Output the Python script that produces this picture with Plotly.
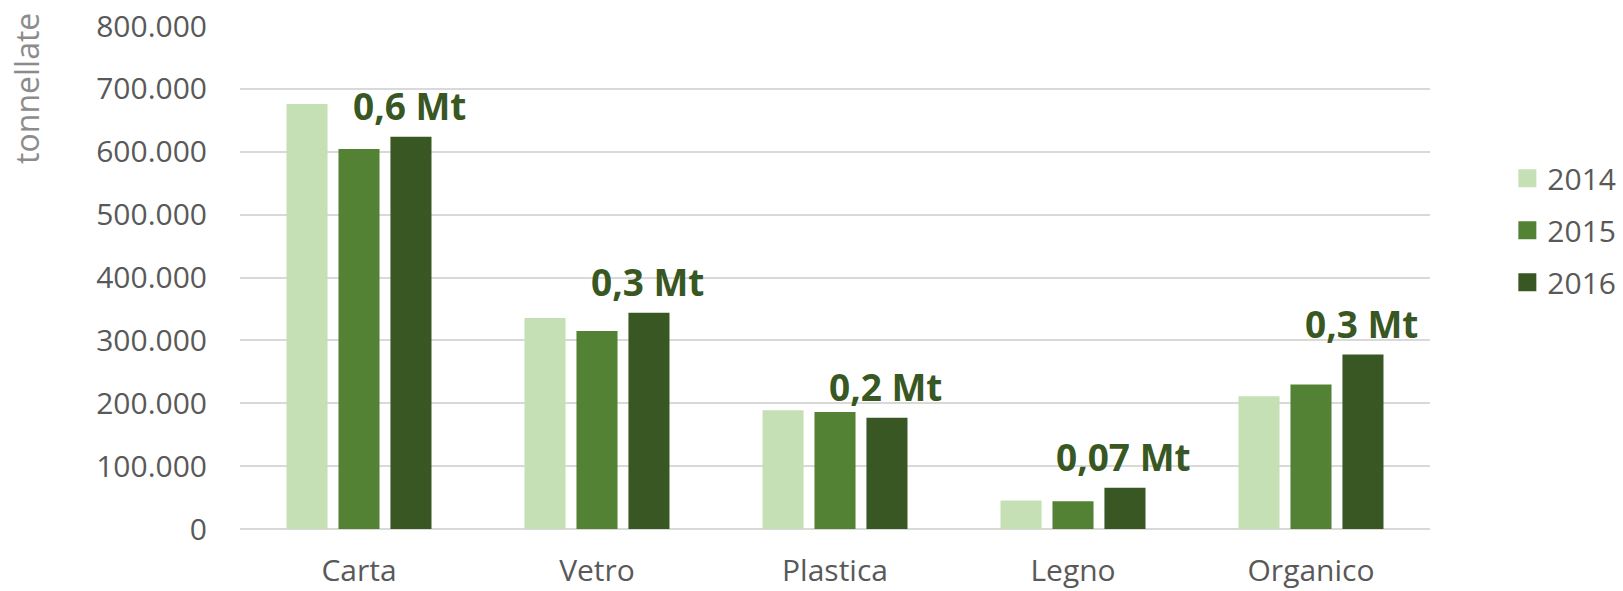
import plotly.graph_objects as go

categories = ["Carta", "Vetro", "Plastica", "Legno", "Organico"]
years = ["2014", "2015", "2016"]
values_2014 = [676000, 335500, 189000, 45500, 211000]
values_2015 = [604500, 315000, 186000, 44000, 230000]
values_2016 = [624000, 344000, 177000, 65700, 277500]
labels_2016 = ["0,6 Mt", "0,3 Mt", "0,2 Mt", "0,07 Mt", "0,3 Mt"]
y_ticks = [0, 100000, 200000, 300000, 400000, 500000, 600000, 700000, 800000]

colors = ["#C5E0B4", "#548235", "#385723"]
series = [values_2014, values_2015, values_2016]
font_family = "Open Sans"

fig = go.Figure()
for yr, vals, col in zip(years, series, colors):
    fig.add_trace(go.Bar(
        x=categories, y=vals, name=yr,
        marker=dict(color=col, line=dict(width=0)),
        showlegend=False, hoverinfo="x+y",
    ))
# legend entries with larger square symbols
for yr, col in zip(years, colors):
    fig.add_trace(go.Scatter(
        x=[None], y=[None], name=yr, mode="markers",
        marker=dict(symbol="square", size=16, color=col, line=dict(color=col, width=2)),
        legendgroup=yr, showlegend=True,
    ))

annotations = []
for cat, val, lab in zip(categories, values_2016, labels_2016):
    annotations.append(dict(
        x=cat, y=val, xref="x", yref="y", text="<b>" + lab + "</b>",
        showarrow=False, xanchor="center", yanchor="bottom",
        xshift=50, yshift=4,
        font=dict(family=font_family, size=37, color="#385723"),
    ))
annotations.append(dict(
    x=0, y=0.875, xref="paper", yref="paper", xshift=-213,
    text="tonnellate", textangle=-90, showarrow=False,
    xanchor="center", yanchor="middle",
    font=dict(family=font_family, size=32, color="#8C8C8C"),
))

fig.update_layout(
    width=1623, height=591,
    margin=dict(l=240, r=193, t=26, b=62, autoexpand=False),
    paper_bgcolor="white", plot_bgcolor="white",
    barmode="group", bargap=0.345, bargroupgap=0.21,
    separators=",.",
    font=dict(family=font_family, size=30, color="#595959"),
    annotations=annotations,
    legend=dict(
        x=1.065, y=0.594, xanchor="left", yanchor="middle",
        font=dict(family=font_family, size=30, color="#595959"),
        tracegroupgap=10, bgcolor="rgba(0,0,0,0)",
    ),
    xaxis=dict(
        showgrid=False, showline=False, ticks="", automargin=False,
        tickfont=dict(family=font_family, size=30, color="#595959"),
        ticklabelstandoff=21,
    ),
    yaxis=dict(
        range=[0, 800000], tickvals=y_ticks, tickformat=",d", automargin=False,
        showgrid=True, gridcolor="#D9D9D9", gridwidth=1.5,
        zeroline=True, zerolinecolor="#D9D9D9", zerolinewidth=1.5,
        showline=False, ticks="",
        tickfont=dict(family=font_family, size=30, color="#595959"),
        ticklabelstandoff=32,
    ),
)

fig.write_html(
    "out.html",
    config={"displayModeBar": False},
    post_script="document.body.style.margin='0';document.body.style.overflow='hidden';",
)
